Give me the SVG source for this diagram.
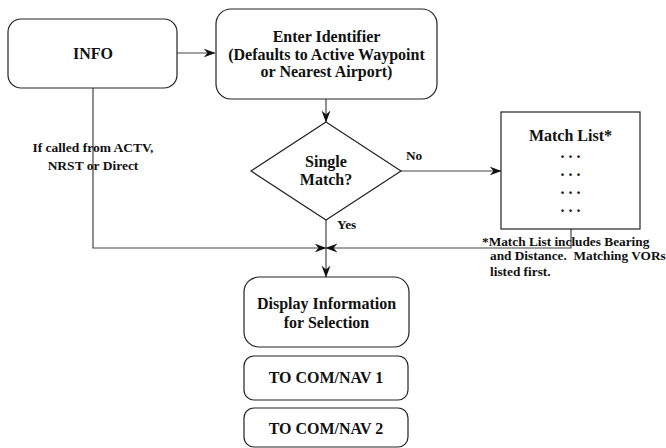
<svg xmlns="http://www.w3.org/2000/svg" width="666" height="448" viewBox="0 0 666 448">
<style>
.box{fill:#fff;stroke:#222;stroke-width:1.2}
.ln{fill:none;stroke:#444;stroke-width:1.2}
text{font-family:"Liberation Serif","Times New Roman",serif;font-weight:bold;fill:#111}
.t{font-size:16px;text-anchor:middle}
.s{font-size:13.3px}
.sc{font-size:13.5px;text-anchor:middle}
</style>
<defs>
<marker id="ah" viewBox="0 0 12 10" refX="11.5" refY="5" markerWidth="12" markerHeight="10" markerUnits="userSpaceOnUse" orient="auto">
<path d="M0,0.5 L12,5 L0,9.5 L4,5 z" fill="#111"/>
</marker>
</defs>
<g id="connectors">
<line class="ln" x1="177" y1="53" x2="215" y2="53" marker-end="url(#ah)"/>
<line class="ln" x1="326" y1="99" x2="326" y2="122" marker-end="url(#ah)"/>
<line class="ln" x1="401" y1="171" x2="501" y2="171" marker-end="url(#ah)"/>
<polyline class="ln" points="93,88 93,248 326,248" marker-end="url(#ah)"/>
<polyline class="ln" points="571,229 571,248 326,248" marker-end="url(#ah)"/>
<line class="ln" x1="326" y1="220" x2="326" y2="277" marker-end="url(#ah)"/>
<text class="s" x="406" y="160">No</text>
<text class="s" x="337" y="229">Yes</text>
<text class="sc" x="93" y="152">If called from ACTV,</text>
<text class="sc" x="93" y="170">NRST or Direct</text>
</g>
<g id="info">
<rect class="box" x="8" y="19" width="169" height="69" rx="13"/>
<text class="t" x="93" y="59">INFO</text>
</g>
<g id="enter">
<rect class="box" x="216" y="9" width="221" height="90" rx="15"/>
<text class="t" x="326.5" y="42">Enter Identifier</text>
<text class="t" x="326.5" y="60">(Defaults to Active Waypoint</text>
<text class="t" x="326.5" y="77">or Nearest Airport)</text>
</g>
<g id="single">
<polygon class="box" points="326,122 401,171 326,220 251,171"/>
<text class="t" x="326" y="167">Single</text>
<text class="t" x="326" y="185">Match?</text>
</g>
<g id="matchlist">
<rect class="box" x="501" y="112" width="139" height="117"/>
<text class="t" x="570.5" y="141">Match List*</text>
<text class="t" x="570.5" y="158">. . .</text>
<text class="t" x="570.5" y="176">. . .</text>
<text class="t" x="570.5" y="194">. . .</text>
<text class="t" x="570.5" y="212">. . .</text>
</g>
<g id="footnote">
<text class="s" x="482" y="246">*Match List includes Bearing</text>
<text class="s" x="490" y="260" xml:space="preserve">and Distance.  Matching VORs</text>
<text class="s" x="490" y="276">listed first.</text>
</g>
<g id="display">
<rect class="box" x="244" y="277" width="165" height="70" rx="15"/>
<text class="t" x="326.5" y="309">Display Information</text>
<text class="t" x="326.5" y="328">for Selection</text>
</g>
<g id="com1">
<rect class="box" x="244" y="356" width="164" height="44" rx="10"/>
<text class="t" x="326" y="383">TO COM/NAV 1</text>
</g>
<g id="com2">
<rect class="box" x="244" y="408" width="164" height="39" rx="10"/>
<text class="t" x="326" y="434">TO COM/NAV 2</text>
</g>
</svg>
